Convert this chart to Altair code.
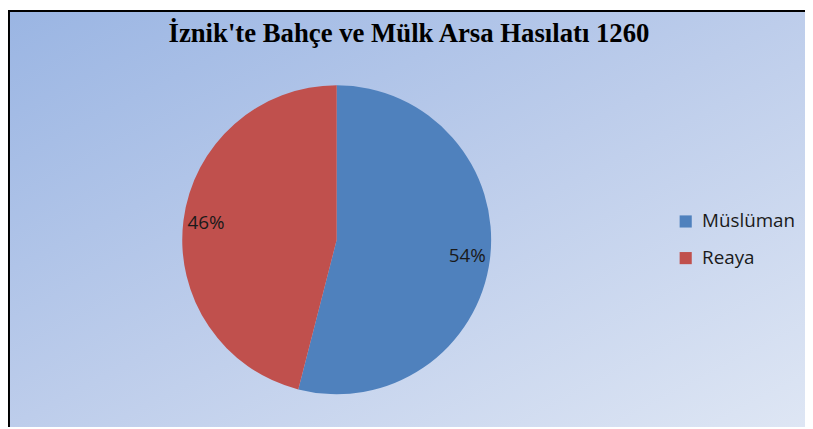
import altair as alt
import pandas as pd

# ---- data ----
categories = ["Müslüman", "Reaya"]
shares = [54, 46]
labels = ["54%", "46%"]
colors = ["#4F81BD", "#C0504D"]
title_text = ["İznik'te Bahçe ve Mülk Arsa Hasılatı 1260"]

df = pd.DataFrame({"cat": categories, "share": shares, "label": labels, "ord": [0, 1]})

W, H = 805, 421
CX, CY = 332, 232
R = 156

one = pd.DataFrame({"a": [0]})

bg = alt.Chart(one).mark_rect(
    fill=alt.Gradient(
        gradient="linear",
        stops=[
            alt.GradientStop(color="#9AB5E3", offset=0),
            alt.GradientStop(color="#BDCDEB", offset=0.5),
            alt.GradientStop(color="#DEE6F4", offset=1),
        ],
        x1=0, y1=0, x2=1, y2=1,
    )
).encode(x=alt.value(0), x2=alt.value(W), y=alt.value(0), y2=alt.value(H))

border_left = alt.Chart(one).mark_rule(color="black", strokeWidth=2).encode(
    x=alt.value(1), y=alt.value(0), y2=alt.value(H)
)
border_top = alt.Chart(one).mark_rule(color="black", strokeWidth=2).encode(
    y=alt.value(1), x=alt.value(0), x2=alt.value(W)
)

base = alt.Chart(df).encode(
    theta=alt.Theta("share:Q", stack=True),
    order=alt.Order("ord:Q"),
)

pie = base.mark_arc(outerRadius=R).encode(
    color=alt.Color(
        "cat:N",
        scale=alt.Scale(domain=categories, range=colors),
        legend=alt.Legend(
            orient="none", legendX=675, legendY=204, title=None,
            symbolType="square", symbolSize=150, symbolStrokeWidth=0,
            labelFontSize=19, labelFont="Open Sans", labelColor="#1a1a1a",
            rowPadding=17, labelOffset=7,
        ),
    ),
    x=alt.value(CX),
    y=alt.value(CY),
)

pct = base.mark_text(radius=133, fontSize=19, font="Open Sans", color="#1a1a1a").encode(
    text="label:N", x=alt.value(CX), y=alt.value(CY)
)

title = alt.Chart(pd.DataFrame({"t": title_text})).mark_text(
    font="Liberation Serif", fontWeight="bold", fontSize=27,
    baseline="alphabetic", align="center", color="black",
).encode(text="t:N", x=alt.value(405), y=alt.value(32))

chart = alt.layer(bg, border_left, border_top, pie, pct, title).properties(
    width=W, height=H, padding=0,
    autosize=alt.AutoSizeParams(type="none"),
).configure_view(stroke=None)

chart.save("out.html", embed_options={"renderer": "svg", "actions": False})
